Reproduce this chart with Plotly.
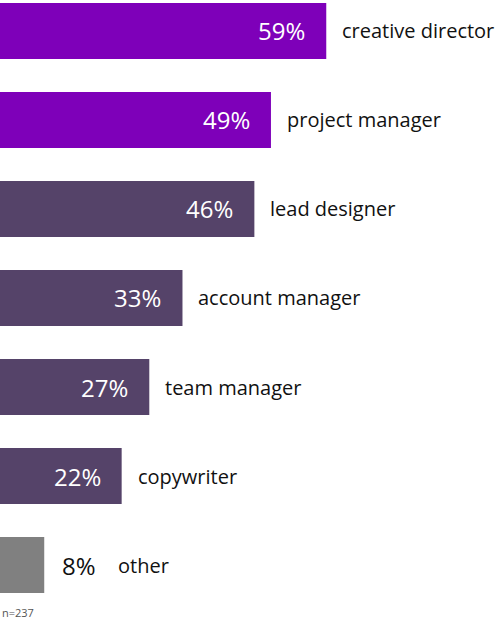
import plotly.graph_objects as go

categories = ["creative director", "project manager", "lead designer",
              "account manager", "team manager", "copywriter", "other"]
values = [59, 49, 46, 33, 27, 22, 8]
bar_colors = ["#7E00B9", "#7E00B9", "#554369", "#554369",
              "#554369", "#554369", "#808080"]
sample_note = "n=237"

FONT = "'Open Sans', 'Noto Sans', sans-serif"

fig = go.Figure()

fig.add_trace(
    go.Bar(
        x=values,
        y=categories,
        orientation="h",
        marker=dict(color=bar_colors, line=dict(width=0)),
        width=0.63,
        hoverinfo="skip",
        showlegend=False,
    )
)

annotations = []
for cat, val in zip(categories, values):
    if cat == "other":
        # small bar: value sits outside in dark text
        annotations.append(dict(
            x=val, y=cat, xref="x", yref="y", text=f"{val}%",
            showarrow=False, xanchor="left", xshift=16,
            font=dict(family=FONT, size=24, color="#111111"),
        ))
        annotations.append(dict(
            x=val, y=cat, xref="x", yref="y", text=cat,
            showarrow=False, xanchor="left", xshift=72,
            font=dict(family=FONT, size=20, color="#111111"),
        ))
    else:
        annotations.append(dict(
            x=val, y=cat, xref="x", yref="y", text=f"{val}%",
            showarrow=False, xanchor="right", xshift=-19,
            font=dict(family=FONT, size=24, color="#ffffff"),
        ))
        annotations.append(dict(
            x=val, y=cat, xref="x", yref="y", text=cat,
            showarrow=False, xanchor="left", xshift=14,
            font=dict(family=FONT, size=20, color="#111111"),
        ))

annotations.append(dict(
    x=0, y=0, xref="paper", yref="paper", text=sample_note,
    showarrow=False, xanchor="left", yanchor="bottom", yshift=3,
    font=dict(family=FONT, size=11, color="#555555"),
))

fig.update_layout(
    width=501,
    height=625,
    margin=dict(l=0, r=0, t=0, b=0),
    paper_bgcolor="white",
    plot_bgcolor="white",
    annotations=annotations,
    bargap=0.37,
)

fig.update_xaxes(range=[0, 90.6], visible=False, fixedrange=True)
fig.update_yaxes(
    categoryorder="array",
    categoryarray=categories,
    range=[6.674, -0.348],
    visible=False,
    fixedrange=True,
)

fig.write_html(
    "out.html",
    config={"displayModeBar": False},
    post_script="document.body.style.margin='0';",
)
